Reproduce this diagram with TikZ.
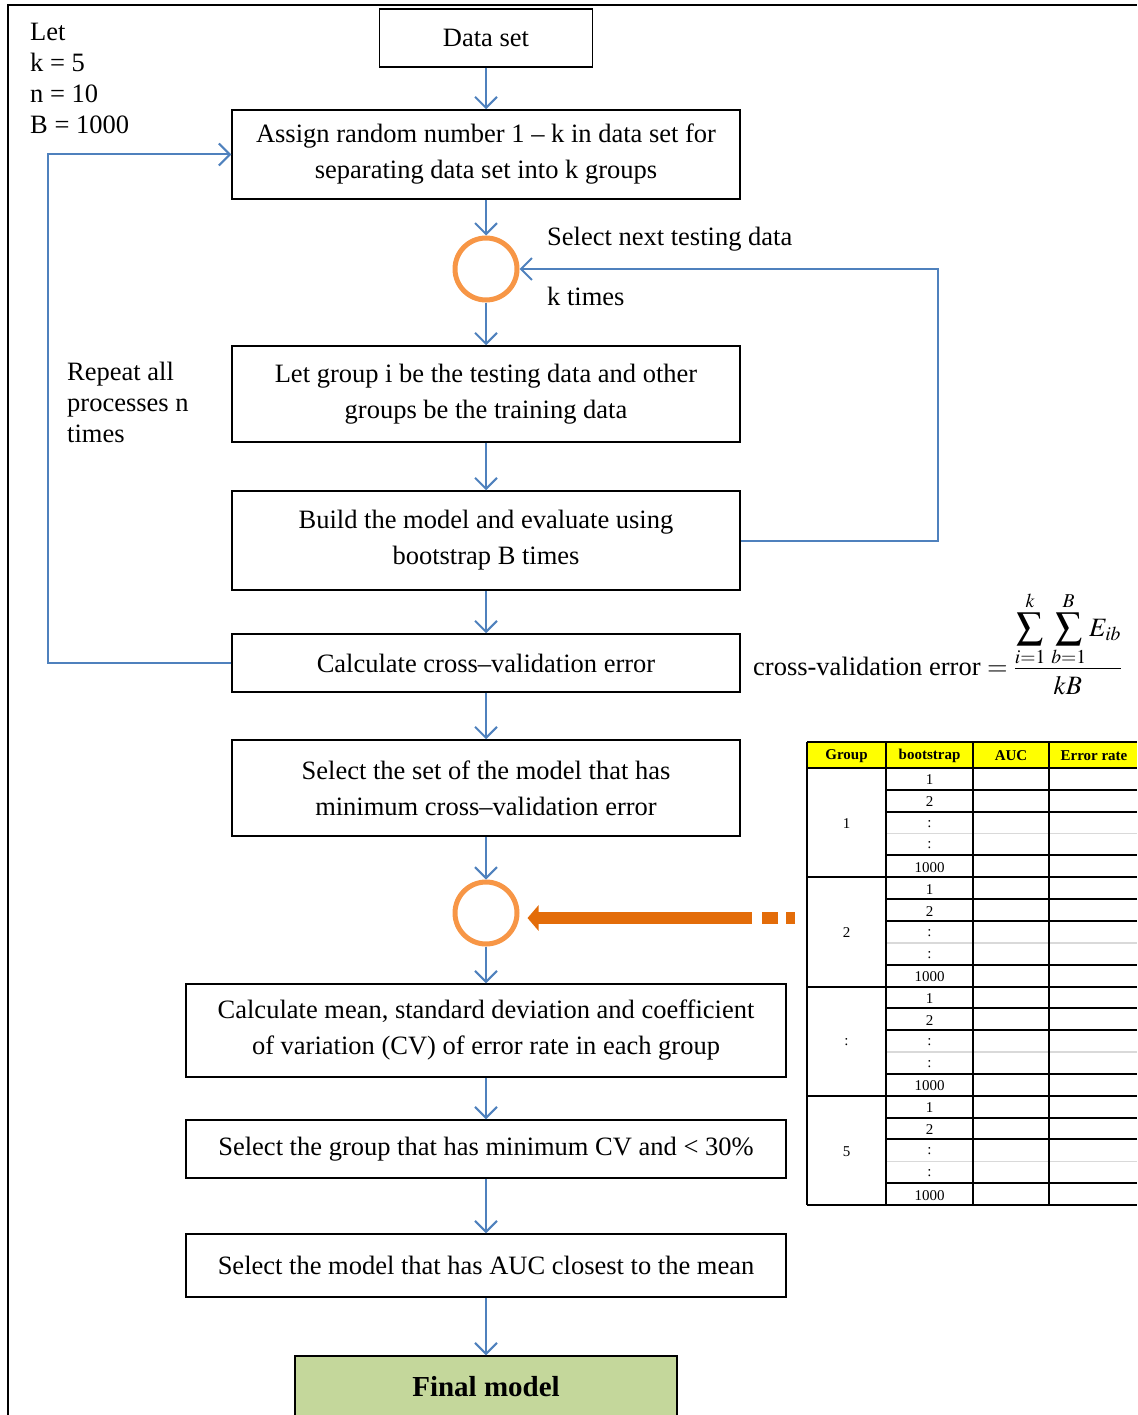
\documentclass[tikz,border=0pt]{standalone}
\usepackage{mathptmx}
\usepackage[no-math]{fontspec}
\setmainfont{Liberation Serif}
\usetikzlibrary{arrows.meta}
\definecolor{flowblue}{HTML}{4F81BD}
\definecolor{ringorange}{HTML}{F79646}
\definecolor{darkorange}{HTML}{E36C09}
\definecolor{finalgreen}{HTML}{C4D79B}
\definecolor{tblyellow}{HTML}{FFFF00}
\begin{document}
\begin{tikzpicture}[x=1pt,y=-1pt,
    box/.style={draw=black, line width=1.5pt, align=center, inner sep=0pt,
        font=\fontsize{26.5}{36}\selectfont},
    ring/.style={shape=circle, draw=ringorange, line width=5pt, minimum size=62pt, inner sep=0pt},
    flow/.style={draw=flowblue, line width=2pt, -{Straight Barb[length=11pt,width=22pt]}},
    sidetext/.style={align=left, inner sep=0pt, font=\fontsize{26.5}{31}\selectfont},
    tbltext/.style={inner sep=0pt, font=\fontsize{15}{18}\selectfont},
    tblline/.style={line width=2pt}]
                \useasboundingbox (0,0) rectangle (1137,1415);
                \draw[line width=2.5pt] (8,1415) -- (8,5) -- (1137,5);

                % main column
                \node[box, minimum width=213pt, minimum height=58pt] (data) at (486,38) {Data set};
                \node[box, minimum width=508pt, minimum height=89pt] (assign) at (486,154.5) {Assign random number 1 – k in data set for\\separating data set into k groups};
                \node[ring] (c1) at (486,269) {};
                \node[box, minimum width=508pt, minimum height=96pt] (split) at (486,394) {Let group i be the testing data and other\\groups be the training data};
                \node[box, minimum width=508pt, minimum height=99pt] (build) at (486,540.5) {Build the model and evaluate using\\bootstrap B times};
                \node[box, minimum width=508pt, minimum height=58pt] (cverr) at (486,663) {Calculate cross–validation error};
                \node[box, minimum width=508pt, minimum height=96pt] (selset) at (486,788) {Select the set of the model that has\\minimum cross–validation error};
                \node[ring] (c2) at (486,913) {};
                \node[box, minimum width=600pt, minimum height=93pt] (stats) at (486,1030.5) {Calculate mean, standard deviation and coefficient\\of variation (CV) of error rate in each group};
                \node[box, minimum width=600pt, minimum height=58pt] (selgrp) at (486,1149) {Select the group that has minimum CV and < 30\%};
                \node[box, minimum width=600pt, minimum height=63pt] (selmod) at (486,1265.5) {Select the model that has AUC closest to the mean};
                \node[box, fill=finalgreen, minimum width=382pt, minimum height=62pt,
                    font=\fontsize{29}{34}\selectfont\bfseries] (final) at (486,1387) {Final model};

                % side texts
                \node[sidetext, anchor=north west] (lets) at (30,23) {Let\\k = 5\\n = 10\\B = 1000};
                \node[sidetext, anchor=west] (nexttxt) at (547,239) {Select next testing data};
                \node[sidetext, anchor=west] (ktxt) at (547,296) {k times};
                \node[sidetext, anchor=north west] (repeat) at (67,362) {Repeat all\\processes n\\times};
                \node[anchor=base west, inner sep=0pt, font=\fontsize{26.5}{32}\selectfont] (cvform) at (753,675)
                    {cross-validation error $=\frac{\displaystyle\sum_{i=1}^{k}\,\sum_{b=1}^{B}E_{ib}}{\rule{0pt}{25pt}\displaystyle kB}$};

                % flow arrows
                \draw[flow] (data) -- (assign);
                \draw[flow] (assign) -- (c1);
                \draw[flow] (c1) -- (split);
                \draw[flow] (split) -- (build);
                \draw[flow] (build) -- (cverr);
                \draw[flow] (cverr) -- (selset);
                \draw[flow] (selset) -- (c2);
                \draw[flow] (c2) -- (stats);
                \draw[flow] (stats) -- (selgrp);
                \draw[flow] (selgrp) -- (selmod);
                \draw[flow] (selmod) -- (final);

                % loops
                \draw[flow] (build.east) -- (938,540.5) |- (c1.east);
                \draw[flow] (cverr.west) -- (48,663) |- (assign.west);

                % table
                \fill[tblyellow] (807,742) rectangle (1137,768);
                \node[tbltext, font=\fontsize{15}{18}\selectfont\bfseries] (hgroup) at (846.5,756) {Group};
                \node[tbltext, font=\fontsize{15}{18}\selectfont\bfseries] (hboot) at (929.5,756) {bootstrap};
                \node[tbltext, font=\fontsize{15}{18}\selectfont\bfseries] (hauc) at (1011,756) {AUC};
                \node[tbltext, font=\fontsize{15}{18}\selectfont\bfseries] (herr) at (1094,756) {Error rate};
                \draw[tblline] (807,742) -- (1137,742);
                \draw[tblline] (807,768) -- (1137,768);
                \foreach \g/\lbl in {0/1,1/2,2/:,3/5} {
                    \node[tbltext] (grp\g) at (846.5,{768+\g*109.25+55.5}) {\lbl};
                    \foreach \r/\val in {0/1,1/2,2/:,3/:,4/1000} {
                        \node[tbltext] (bs\g-\r) at (929.5,{768+\g*109.25+(\r+0.5)*21.85+1}) {\val};
                    }
                    \foreach \r in {1,2,4} {
                        \draw[tblline] (886,{768+\g*109.25+\r*21.85}) -- (1137,{768+\g*109.25+\r*21.85});
                    }
                    \draw[black!15, line width=1.5pt] (886,{768+\g*109.25+3*21.85}) -- (1137,{768+\g*109.25+3*21.85});
                    \draw[tblline] (807,{768+(\g+1)*109.25}) -- (1137,{768+(\g+1)*109.25});
                }
                \foreach \x in {807,886,973,1049} {
                    \draw[tblline] (\x,742) -- (\x,1205);
                }

                % orange pointer
                \coordinate (tblin) at (795,918);
                \draw[draw=darkorange, line width=12pt, shorten >=8pt,
                    dash pattern=on 9pt off 8pt on 16pt off 10pt on 600pt,
                    -{Triangle[length=11pt,width=25pt]}] (tblin) -- (tblin -| c2.east);

            \end{tikzpicture}
\end{document}
